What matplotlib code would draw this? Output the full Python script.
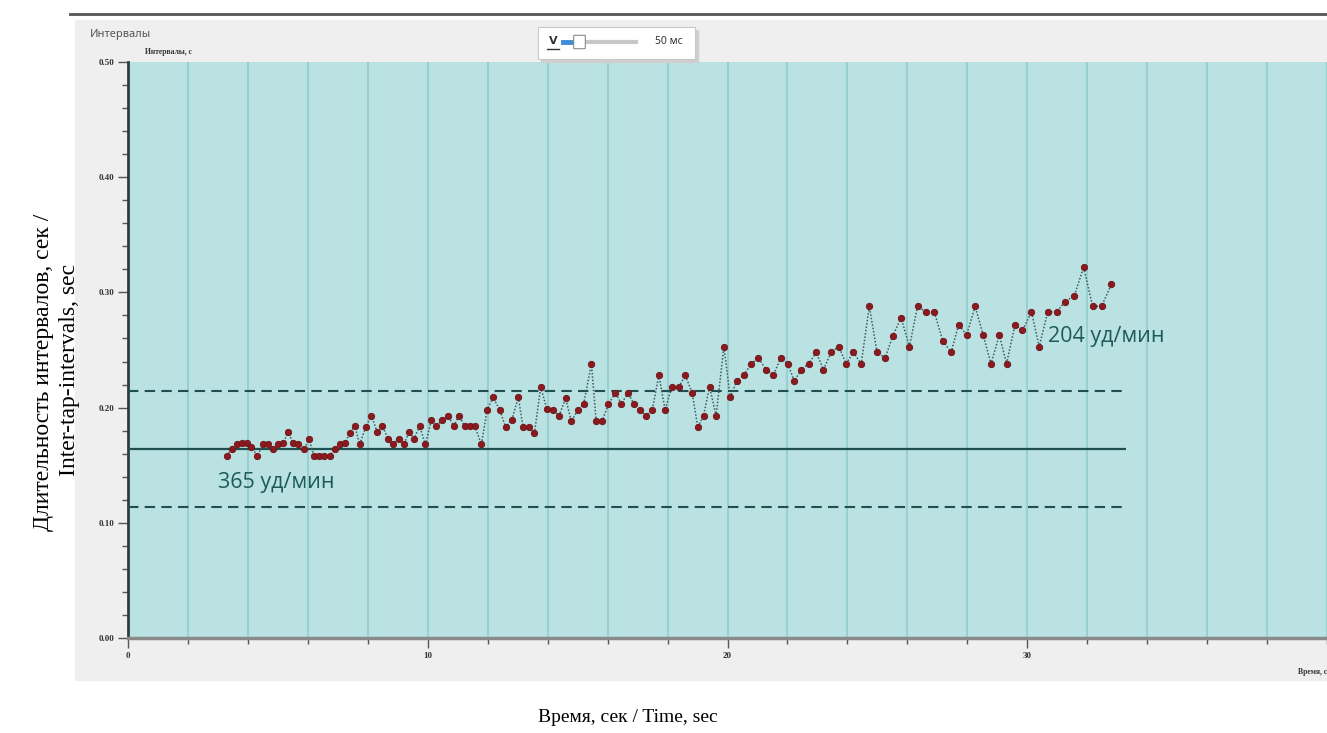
import numpy as np
import matplotlib
matplotlib.use("Agg")
import matplotlib.pyplot as plt
from matplotlib.patches import Rectangle, FancyBboxPatch
from matplotlib.lines import Line2D

# tap times (s) and inter-tap intervals (s)
times = [3.29, 3.46, 3.62, 3.79, 3.96, 4.12, 4.31, 4.51, 4.68, 4.84,
         5.01, 5.18, 5.34, 5.51, 5.68, 5.88, 6.04, 6.20, 6.38, 6.54,
         6.73, 6.90, 7.07, 7.23, 7.40, 7.57, 7.73, 7.93, 8.12, 8.31,
         8.48, 8.68, 8.84, 9.03, 9.20, 9.38, 9.54, 9.73, 9.92, 10.12,
         10.29, 10.48, 10.68, 10.87, 11.04, 11.23, 11.40, 11.57, 11.79, 11.98,
         12.18, 12.40, 12.60, 12.80, 13.02, 13.18, 13.37, 13.56, 13.77, 13.97,
         14.18, 14.38, 14.60, 14.79, 15.01, 15.20, 15.46, 15.62, 15.81, 16.03,
         16.26, 16.46, 16.68, 16.88, 17.07, 17.29, 17.49, 17.71, 17.92, 18.14,
         18.38, 18.59, 18.82, 19.01, 19.20, 19.40, 19.62, 19.88, 20.09, 20.31,
         20.54, 20.79, 21.03, 21.29, 21.53, 21.77, 22.01, 22.23, 22.46, 22.71,
         22.96, 23.20, 23.46, 23.71, 23.96, 24.20, 24.46, 24.73, 24.99, 25.26,
         25.51, 25.79, 26.07, 26.34, 26.62, 26.90, 27.18, 27.46, 27.71, 27.98,
         28.26, 28.53, 28.79, 29.07, 29.31, 29.59, 29.84, 30.14, 30.40, 30.68,
         30.98, 31.26, 31.57, 31.88, 32.18, 32.48, 32.81]
intervals = [0.158, 0.164, 0.168, 0.169, 0.169, 0.166, 0.158, 0.168, 0.168, 0.164,
             0.168, 0.169, 0.179, 0.169, 0.168, 0.164, 0.173, 0.158, 0.158, 0.158,
             0.158, 0.164, 0.168, 0.169, 0.178, 0.184, 0.168, 0.183, 0.193, 0.179,
             0.184, 0.173, 0.168, 0.173, 0.168, 0.179, 0.173, 0.184, 0.168, 0.189,
             0.184, 0.189, 0.193, 0.184, 0.193, 0.184, 0.184, 0.184, 0.168, 0.198,
             0.209, 0.198, 0.183, 0.189, 0.209, 0.183, 0.183, 0.178, 0.218, 0.199,
             0.198, 0.193, 0.208, 0.188, 0.198, 0.203, 0.238, 0.188, 0.188, 0.203,
             0.213, 0.203, 0.213, 0.203, 0.198, 0.193, 0.198, 0.228, 0.198, 0.218,
             0.218, 0.228, 0.213, 0.183, 0.193, 0.218, 0.193, 0.253, 0.209, 0.223,
             0.228, 0.238, 0.243, 0.233, 0.228, 0.243, 0.238, 0.223, 0.233, 0.238,
             0.248, 0.233, 0.248, 0.253, 0.238, 0.248, 0.238, 0.288, 0.248, 0.243,
             0.262, 0.278, 0.253, 0.288, 0.283, 0.283, 0.258, 0.248, 0.272, 0.263,
             0.288, 0.263, 0.238, 0.263, 0.238, 0.272, 0.267, 0.283, 0.253, 0.283,
             0.283, 0.292, 0.297, 0.322, 0.288, 0.288, 0.307]

mean_interval = 0.164   # 365 уд/мин
band = 0.05
line_end = 33.3
labels = [("365 уд/мин", 3.0, 0.135), ("204 уд/мин", 30.7, 0.262)]

W, H = 1327, 733
def fx(px):
    return px / W
def fy(py):
    return 1 - py / H

fig = plt.figure(figsize=(W / 100, H / 100), dpi=100)
fig.patch.set_facecolor("white")

# window panel + top rule (kept below the axes)
fig.patches.append(Rectangle((fx(75), fy(680)), 1 - fx(75), fy(20) - fy(680),
                             transform=fig.transFigure, color="#efefef", zorder=-5))
fig.lines.append(Line2D([fx(70), 1], [fy(14), fy(14)], transform=fig.transFigure,
                        color="#555555", lw=2))

fig.text(fx(90), fy(35), "Интервалы", family="Noto Sans", size=8, color="#555555", va="center")
fig.text(fx(145), fy(52), "Интервалы, с", family="Liberation Serif", weight="bold",
         size=5.5, color="#333333", va="center")

# slider widget
fig.patches.append(Rectangle((fx(541), fy(62)), fx(157), fy(30) - fy(62),
                             transform=fig.transFigure, color="#cfcfcf", zorder=1))
fig.patches.append(Rectangle((fx(538), fy(59)), fx(157), fy(27) - fy(59),
                             transform=fig.transFigure, facecolor="white",
                             edgecolor="#c8c8c8", lw=0.8, zorder=2))
fig.text(fx(553), fy(41), "V", family="DejaVu Sans", weight="bold", size=8,
         color="#333333", ha="center", va="center", zorder=3)
fig.lines.append(Line2D([fx(547), fx(559)], [fy(49), fy(49)], transform=fig.transFigure,
                        color="#333333", lw=1, zorder=3))
fig.lines.append(Line2D([fx(580), fx(636)], [fy(42), fy(42)], transform=fig.transFigure,
                        color="#c8c8c8", lw=3, zorder=3))
fig.lines.append(Line2D([fx(563), fx(577)], [fy(42), fy(42)], transform=fig.transFigure,
                        color="#3b8fd4", lw=3.5, zorder=3))
fig.patches.append(FancyBboxPatch((fx(575), fy(48)), fx(9), fy(36) - fy(48),
                                  boxstyle="round,pad=0.001", transform=fig.transFigure,
                                  facecolor="white", edgecolor="#8a8a8a", lw=0.8, zorder=4))
fig.text(fx(655), fy(42), "50 мс", family="Noto Sans", size=7.5, color="#333333",
         va="center", zorder=3)

# plot area
ax = fig.add_axes([fx(128), fy(638), 1 - fx(128), fy(62) - fy(638)])
ax.set_zorder(0.5)
ax.set_facecolor("#bae2e3")
ax.set_xlim(0, 40)
ax.set_ylim(0, 0.5)
ax.set_xticks([0, 10, 20, 30])
ax.set_xticks(np.arange(0, 41, 2), minor=True)
ax.set_yticks(np.arange(0, 0.51, 0.1))
ax.set_yticks(np.arange(0, 0.51, 0.02), minor=True)
ax.set_yticklabels([f"{v:.2f}" for v in np.arange(0, 0.51, 0.1)])
ax.grid(True, which="both", axis="x", color="#98d0d2", lw=1.4)
ax.set_axisbelow(True)
for s in ["top", "right"]:
    ax.spines[s].set_visible(False)
ax.spines["left"].set_color("#2b3f3f")
ax.spines["left"].set_linewidth(2)
ax.spines["bottom"].set_color("#8a8a8a")
ax.spines["bottom"].set_linewidth(2.5)
ax.tick_params(which="major", length=7, width=1, color="#555555", labelsize=6.5, pad=3)
ax.tick_params(which="minor", length=4, width=1, color="#555555")
for lab in ax.get_xticklabels() + ax.get_yticklabels():
    lab.set_family("Liberation Serif")
    lab.set_weight("bold")
    lab.set_color("#333333")

ax.hlines(mean_interval, 0, line_end, color="#1f4f50", lw=1.6, zorder=3)
ax.hlines([mean_interval + band, mean_interval - band], 0, line_end, color="#1f4f50",
          lw=1.5, linestyles=(0, (5, 3)), zorder=3)

ax.plot(times, intervals, ls=(0, (1, 1.2)), color="#3d5b5b", lw=1.1, marker="o", ms=4.6,
        mfc="#8b1a1e", mec="#6e1216", mew=0.6, zorder=4)

for txt, x, y in labels:
    ax.text(x, y, txt, family="Open Sans", size=15.5, color="#1d5a5a", va="center", zorder=5)

fig.text(fx(1298), fy(672), "Время, с", family="Liberation Serif", weight="bold",
         size=5.5, color="#333333", va="center")

# outer captions
fig.text(fx(628), fy(717), "Время, сек / Time, sec", family="Liberation Serif", size=14,
         ha="center", va="center")
fig.text(fx(44), fy(372), "Длительность интервалов, сек /", family="Liberation Serif",
         size=17, rotation=90, ha="center", va="center")
fig.text(fx(69), fy(370), "Inter-tap-intervals, sec", family="Liberation Serif",
         size=17, rotation=90, ha="center", va="center")

fig.savefig("out.png", dpi=100)
